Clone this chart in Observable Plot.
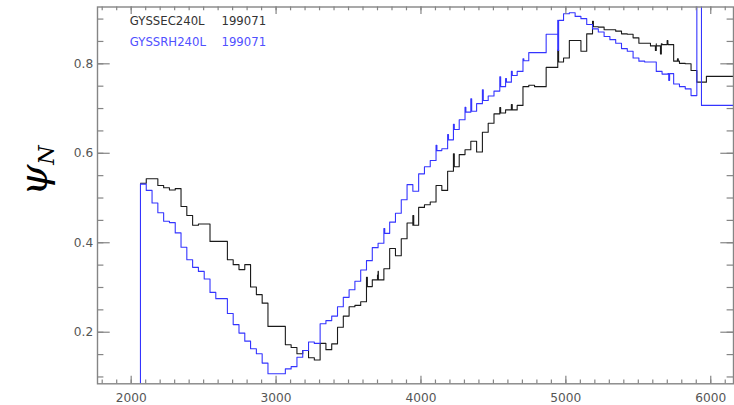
<!DOCTYPE html>
<html><head><meta charset="utf-8">
<script src="https://cdn.jsdelivr.net/npm/d3@7"></script>
<script src="https://cdn.jsdelivr.net/npm/@observablehq/plot@0.6"></script>
<style>
html,body{margin:0;padding:0;background:#fff;}
#chart{width:734px;height:405px;}
</style></head><body><div id="chart"></div>
<script>
// ---- data ----
const seriesNames = ["GYSSEC240L", "GYSSRH240L"];
const seriesCodes = ["199071", "199071"];
const seriesColors = ["#1a1a1a", "#3434ff"];
const legendColors = ["#333333", "#5050ff"];

const blackX = [2064,2104,2144,2184,2224,2264,2304,2344,2384,2424,2464,2504,2544,2584,2624,2664,2704,2744,2784,2824,
2864,2904,2944,2984,3024,3064,3104,3144,3184,3224,3264,3304,3344,3384,3424,3464,3504,3544,3584,3624,
3664,3704,3744,3784,3824,3864,3904,3944,3984,4024,4064,4104,4144,4184,4224,4264,4304,4344,4384,4424,
4464,4504,4544,4584,4624,4664,4704,4744,4784,4824,4864,4904,4944,4984,5024,5064,5104,5144,5184,5224,
5264,5304,5344,5384,5424,5464,5504,5544,5584,5624,5664,5704,5744,5784,5824,5864,5904,5970,6160];
const blackY = [0.533,0.543,0.543,0.528,0.523,0.518,0.521,0.481,0.461,0.439,
0.442,0.442,0.403,0.403,0.403,0.362,0.351,0.340,0.351,0.301,
0.284,0.265,0.213,0.213,0.213,0.172,0.166,0.152,0.159,0.143,
0.138,0.175,0.161,0.174,0.211,0.236,0.257,0.260,0.268,0.302,
0.317,0.336,0.342,0.387,0.371,0.409,0.444,0.439,0.479,0.485,
0.491,0.528,0.517,0.560,0.570,0.597,0.608,0.627,0.603,0.647,
0.667,0.688,0.690,0.697,0.697,0.707,0.749,0.752,0.749,0.749,
0.792,0.792,0.804,0.813,0.852,0.852,0.828,0.867,0.883,0.882,
0.876,0.876,0.873,0.867,0.866,0.858,0.846,0.846,0.840,0.845,
0.843,0.846,0.806,0.801,0.800,0.785,0.759,0.772,0.772];
const blackSpikeX = [3624,3700,3944,4224,4544,4624,4944,5184,5618,5653,5699,5770];
const blackSpikeY = [0.323,0.328,0.461,0.599,0.702,0.709,0.831,0.895,0.830,0.822,0.852,0.811];

const blueX = [2064,2064,2104,2144,2184,2224,2264,2304,2344,2384,2424,2464,2504,2544,2584,2624,2664,2704,2744,2784,2824,
2864,2904,2944,2984,3024,3064,3104,3144,3184,3224,3264,3304,3344,3384,3424,3464,3504,3544,3584,3624,
3664,3704,3744,3784,3824,3864,3904,3944,3984,4024,4064,4104,4144,4184,4224,4264,4304,4344,4384,4424,
4464,4504,4544,4584,4624,4664,4704,4744,4784,4824,4864,4904,4944,4984,5024,5064,5104,5144,5184,5224,
5264,5304,5344,5384,5424,5464,5504,5544,5584,5624,5664,5704,5744,5784,5824,5864,5904,5936,6160];
const blueY = [0.0,
0.531,0.517,0.489,0.467,0.448,0.445,0.422,0.390,0.362,0.345,
0.336,0.319,0.289,0.275,0.275,0.242,0.217,0.198,0.180,0.163,
0.152,0.131,0.107,0.107,0.107,0.118,0.123,0.144,0.159,0.178,
0.175,0.219,0.226,0.236,0.257,0.278,0.295,0.314,0.339,0.360,
0.389,0.399,0.421,0.446,0.466,0.496,0.530,0.515,0.554,0.570,
0.584,0.606,0.610,0.630,0.653,0.675,0.692,0.694,0.711,0.718,
0.728,0.739,0.749,0.759,0.774,0.783,0.807,0.825,0.825,0.825,
0.866,0.866,0.897,0.912,0.914,0.906,0.901,0.888,0.878,0.871,
0.861,0.854,0.846,0.834,0.828,0.813,0.806,0.804,0.804,0.783,
0.777,0.778,0.755,0.749,0.744,0.729,1.0,0.707,0.707];
const blueSpikeX = [3744,4104,4184,4224,4304,4344,4424,4544,4584,4624,4704,4944,5710];
const blueSpikeY = [0.432,0.618,0.642,0.665,0.703,0.722,0.742,0.771,0.767,0.783,0.811,0.830,0.763];

const xMajor = [2000, 3000, 4000, 5000, 6000];
const xMinor = d3.range(1800, 6200, 100);
const yMajor = [0.2, 0.4, 0.6, 0.8];
const yMinor = [0.1,0.15,0.2,0.25,0.3,0.35,0.4,0.45,0.5,0.55,0.6,0.65,0.7,0.75,0.8,0.85,0.9];

// ---- build step tables (with single-sample spikes) ----
function buildSeries(xs, ys, sx, sy, name) {
  const pts = xs.map((x, i) => ({x, y: ys[i], o: 0, name}));
  sx.forEach((s, j) => {
    let lvl = ys[0];
    for (let i = 0; i < xs.length; i++) if (xs[i] <= s) lvl = ys[i];
    pts.push({x: s, y: sy[j], o: 1, name});
    pts.push({x: s + 6, y: lvl, o: 2, name});
  });
  return pts.map((p, k) => ({...p, k})).sort((a, b) => a.x - b.x || a.o - b.o || a.k - b.k);
}
const blackData = buildSeries(blackX, blackY, blackSpikeX, blackSpikeY, seriesNames[0]);
const blueData = buildSeries(blueX, blueY, blueSpikeX, blueSpikeY, seriesNames[1]);

const W = 734, H = 405, mL = 97, mR = 1, mT = 6.5, mB = 21.7;
const fw = W - mL - mR, fh = H - mT - mB;
const axisColor = "#858585";

const legendMarks = [];
seriesNames.forEach((n, i) => {
  legendMarks.push(Plot.text([n], {text: d => d, frameAnchor: "top-left", dx: 32.3, dy: 14.5 + 20.3 * i,
    lineAnchor: "middle", textAnchor: "start", fill: legendColors[i], fontSize: 11.7}));
  legendMarks.push(Plot.text([seriesCodes[i]], {text: d => d, frameAnchor: "top-left", dx: 124, dy: 14.5 + 20.3 * i,
    lineAnchor: "middle", textAnchor: "start", fill: legendColors[i], fontSize: 11.7}));
});

const chart = Plot.plot({
  width: W, height: H,
  marginLeft: mL, marginRight: mR, marginTop: mT, marginBottom: mB,
  x: {domain: [1767.5, 6157], label: null},
  y: {domain: [0.0847, 0.927], label: null},
  style: {fontFamily: "DejaVu Sans", background: "white", overflow: "visible"},
  marks: [
    Plot.line(blackData, {x: "x", y: "y", curve: "step-after", stroke: seriesColors[0], strokeWidth: 1.1, clip: true}),
    Plot.line(blueData, {x: "x", y: "y", curve: "step-after", stroke: seriesColors[1], strokeWidth: 1.1, clip: true}),
    Plot.frame({stroke: axisColor, strokeWidth: 1.4}),
    // inward ticks
    Plot.tickX(xMajor, {x: d => d, insetTop: fh - 7.5, stroke: axisColor, strokeWidth: 1.2}),
    Plot.tickX(xMinor, {x: d => d, insetTop: fh - 3.8, stroke: axisColor, strokeWidth: 1.2}),
    Plot.tickX(xMajor, {x: d => d, insetBottom: fh - 7.5, stroke: axisColor, strokeWidth: 1.2}),
    Plot.tickX(xMinor, {x: d => d, insetBottom: fh - 3.8, stroke: axisColor, strokeWidth: 1.2}),
    Plot.tickY(yMajor, {y: d => d, insetRight: fw - 12.7, stroke: axisColor, strokeWidth: 1.2}),
    Plot.tickY(yMinor, {y: d => d, insetRight: fw - 6.4, stroke: axisColor, strokeWidth: 1.2}),
    Plot.tickY(yMajor, {y: d => d, insetLeft: fw - 12.7, stroke: axisColor, strokeWidth: 1.2}),
    Plot.tickY(yMinor, {y: d => d, insetLeft: fw - 6.4, stroke: axisColor, strokeWidth: 1.2}),
    Plot.axisX(xMajor, {tickSize: 0, tickPadding: 9.6, fontSize: 12.2, color: "#555", label: null, tickFormat: d => String(d)}),
    Plot.axisY(yMajor, {tickSize: 0, tickPadding: 4.3, fontSize: 12.2, color: "#555", label: null, tickFormat: d => d.toFixed(1)}),
    ...legendMarks
  ]
});
document.getElementById("chart").appendChild(chart);

// y title: psi_N, rotated as in the reference
const svg = d3.select(chart);
const t = svg.append("text")
  .attr("transform", "translate(47,196) rotate(-90)")
  .attr("text-anchor", "start")
  .attr("fill", "#000");
t.append("tspan").attr("font-family", "DejaVu Serif").attr("font-style", "italic").attr("font-size", 40).text("ψ");
t.append("tspan").attr("font-family", "DejaVu Serif").attr("font-style", "italic").attr("font-size", 22).attr("dy", 7).text("N");
</script>
</body></html>
